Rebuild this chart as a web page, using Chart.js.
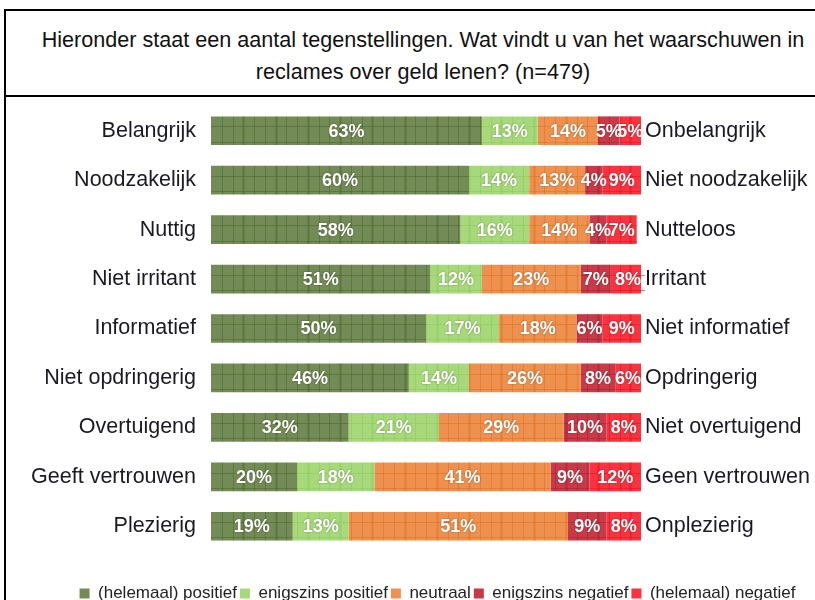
<!DOCTYPE html>
<html>
<head>
<meta charset="utf-8">
<script src="https://cdn.jsdelivr.net/npm/chart.js@4.4.1/dist/chart.umd.min.js"></script>
<style>
  html, body { margin: 0; padding: 0; width: 815px; height: 600px; overflow: hidden; background: #fff; }
  #frame { position: absolute; left: 4px; top: 9px; width: 900px; height: 700px; border-left: 2px solid #000; border-top: 2px solid #000; }
  #title { position: absolute; left: 6px; top: 11px; width: 834px; height: 86px; border-bottom: 2px solid #000;
           font-family: 'Liberation Sans', Arial, sans-serif; font-size: 21.6px; line-height: 32px; color: #111;
           text-align: center; box-sizing: border-box; padding-top: 13px; }
  #c { position: absolute; left: 0; top: 0; }
</style>
</head>
<body>
<div id="frame"></div>
<div id="title">Hieronder staat een aantal tegenstellingen. Wat vindt u van het waarschuwen in<br>reclames over geld lenen? (n=479)</div>
<canvas id="c" width="815" height="612"></canvas>
<script>
const leftLabels = ['Belangrijk','Noodzakelijk','Nuttig','Niet irritant','Informatief','Niet opdringerig','Overtuigend','Geeft vertrouwen','Plezierig'];
const rightLabels = ['Onbelangrijk','Niet noodzakelijk','Nutteloos','Irritant','Niet informatief','Opdringerig','Niet overtuigend','Geen vertrouwen','Onplezierig'];
const seriesNames = ['(helemaal) positief','enigszins positief','neutraal','enigszins negatief','(helemaal) negatief'];
const positief = [63,60,58,51,50,46,32,20,19];
const enigszinsPositief = [13,14,16,12,17,14,21,18,13];
const neutraal = [14,13,14,23,18,26,29,41,51];
const enigszinsNegatief = [5,4,4,7,6,8,10,9,9];
const negatief = [5,9,7,8,9,6,8,12,8];

const fillColors = ['#738b56','#a7d97b','#ee914f','#c93a48','#fb3340'];
const lineColors = ['#4b6828','#8cc85c','#e0701e','#ad1e2c','#e3101c'];

const FONT = "'Liberation Sans', Arial, sans-serif";
Chart.defaults.font.family = FONT;

const seriesValues = [positief, enigszinsPositief, neutraal, enigszinsNegatief, negatief];

const legendShift = {
  id: 'legendShift',
  afterLayout(chart) {
    if (chart.legend) { chart.legend.left += 30; chart.legend.right += 30; }
  }
};

const cellPlugin = {
  id: 'cellPlugin',
  afterDatasetsDraw(chart) {
    const ctx = chart.ctx;
    const xs = chart.scales.x;
    chart.data.datasets.forEach((ds, di) => {
      const meta = chart.getDatasetMeta(di);
      meta.data.forEach(el => {
        const p = el.getProps(['x','y','base','height'], true);
        const left = Math.min(p.x, p.base), right = Math.max(p.x, p.base);
        const top = p.y - p.height / 2, bottom = p.y + p.height / 2;
        ctx.save();
        ctx.beginPath();
        ctx.rect(left, top, right - left, bottom - top);
        ctx.clip();
        ctx.strokeStyle = lineColors[di];
        ctx.globalAlpha = 0.55;
        for (let k = 1; k < 40; k++) {
          const px = Math.round(xs.getPixelForValue(k * 2.5)) + 0.5;
          if (px < left || px > right) continue;
          ctx.lineWidth = (k % 3 === 0) ? 2 : 1;
          ctx.beginPath(); ctx.moveTo(px, top); ctx.lineTo(px, bottom); ctx.stroke();
        }
        ctx.lineWidth = 1;
        [0.35, 0.88].forEach(f => {
          const py = Math.round(top + (bottom - top) * f) + 0.5;
          ctx.beginPath(); ctx.moveTo(left, py); ctx.lineTo(right, py); ctx.stroke();
        });
        ctx.restore();
      });
    });
    ctx.save();
    ctx.font = 'bold 18px ' + FONT;
    ctx.fillStyle = '#ffffff';
    ctx.textAlign = 'center';
    ctx.textBaseline = 'middle';
    ctx.shadowColor = 'rgba(0,0,0,0.35)';
    ctx.shadowBlur = 2;
    chart.data.datasets.forEach((ds, di) => {
      const meta = chart.getDatasetMeta(di);
      meta.data.forEach((el, i) => {
        const p = el.getProps(['x','y','base'], true);
        ctx.fillText(ds.data[i] + '%', (p.x + p.base) / 2, p.y + 1);
      });
    });
    ctx.restore();
  }
};

new Chart(document.getElementById('c'), {
  type: 'bar',
  data: {
    labels: leftLabels,
    datasets: seriesNames.map((name, i) => ({
      label: name,
      data: seriesValues[i],
      backgroundColor: fillColors[i],
      borderWidth: 0,
      barPercentage: 0.58,
      categoryPercentage: 1.0,
      yAxisID: 'y',
      xAxisID: 'x'
    }))
  },
  options: {
    indexAxis: 'y',
    responsive: false,
    animation: false,
    devicePixelRatio: 1,
    layout: { padding: { left: 0, right: 0, top: 106, bottom: 0 } },
    scales: {
      x: {
        stacked: true, min: 0, max: 100,
        display: true,
        ticks: { display: false },
        grid: { display: false, drawTicks: false },
        border: { display: false },
        afterFit: s => { s.height = 31; }
      },
      y: {
        stacked: true,
        position: 'left',
        offset: true,
        grid: { display: false, drawTicks: false },
        border: { display: false },
        ticks: { color: '#1a1a22', font: { size: 21.5 }, padding: 15 },
        afterFit: s => { s.width = 211; }
      },
      y2: {
        type: 'category',
        labels: rightLabels,
        position: 'right',
        offset: true,
        grid: { display: false, drawTicks: false },
        border: { display: false },
        ticks: { color: '#1a1a22', font: { size: 21.5 }, padding: 4 },
        afterFit: s => { s.width = 174; }
      }
    },
    plugins: {
      title: { display: false },
      tooltip: { enabled: false },
      legend: {
        position: 'bottom',
        labels: {
          boxWidth: 10, boxHeight: 10, padding: 3,
          color: '#222', font: { size: 17 }
        }
      }
    }
  },
  plugins: [legendShift, cellPlugin]
});
</script>
</body>
</html>
